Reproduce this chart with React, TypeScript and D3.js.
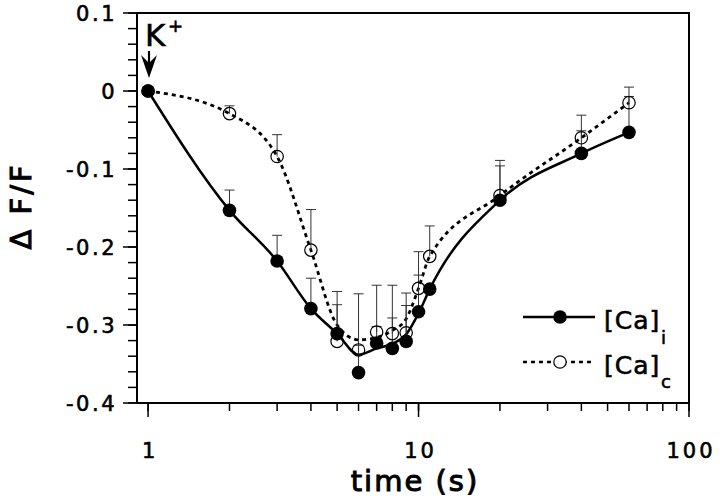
import React from 'react';
import * as d3 from 'd3';

// sample times (s) and mean values
const times = [1, 2, 3, 4, 5, 6, 7, 8, 9, 10, 11, 20, 40, 60];
const caI = [0, -0.153, -0.218, -0.279, -0.311, -0.361, -0.323, -0.33, -0.321, -0.283, -0.254, -0.14, -0.08, -0.053];
const errI = [0, 0.026, 0.033, 0.039, 0.037, 0.101, 0.074, 0.081, 0.062, 0.047, 0, 0.044, 0.029, 0.058];
const caC = [0, -0.029, -0.084, -0.204, -0.321, -0.332, -0.309, -0.311, -0.31, -0.253, -0.212, -0.134, -0.06, -0.015];
const errC = [0, 0.01, 0.028, 0.052, 0.064, 0.006, 0.007, 0.02, 0.035, 0.047, 0.039, 0.045, 0.029, 0.008];

// fitted curves (read at the same times)
const fitI = [0, -0.153, -0.218, -0.279, -0.311, -0.338, -0.33, -0.324, -0.312, -0.285, -0.254, -0.14, -0.08, -0.053];
const fitC = [0, -0.029, -0.084, -0.204, -0.3, -0.319, -0.316, -0.307, -0.292, -0.253, -0.212, -0.134, -0.06, -0.015];

const yTicks = [-0.4, -0.3, -0.2, -0.1, 0, 0.1];
const yTickLabels = ['-0.4', '-0.3', '-0.2', '-0.1', '0', '0.1'];
const xTicks = [1, 10, 100];
const xTickLabels = ['1', '10', '100'];

const W = 720;
const H = 500;
const FONT = '"DejaVu Sans", sans-serif';

export default function App() {
  const x = d3.scaleLog().domain([0.91, 100]).range([137, 689]);
  const y = d3.scaleLinear().domain([-0.4, 0.1]).range([403, 13]);

  const line = d3
    .line<number>()
    .x((_, i) => x(times[i]))
    .y((d) => y(d))
    .curve(d3.curveMonotoneX);

  const yMinor = y.ticks(25);
  const xMinor = x.ticks();

  const errBar = (v: number, e: number, t: number, key: string) => {
    if (!e) return null;
    const cx = x(t);
    return (
      <g key={key} stroke="#333" strokeWidth={1}>
        <line x1={cx} x2={cx} y1={y(v)} y2={y(v + e)} />
        <line x1={cx - 5} x2={cx + 5} y1={y(v + e)} y2={y(v + e)} />
      </g>
    );
  };

  // slight outline thickens the regular face to look like the demi weight
  const heavy = { stroke: '#000', strokeWidth: 0.6 };

  return (
    <svg
      width={W}
      height={H}
      style={{ position: 'absolute', left: 0, top: 0, background: '#fff' }}
      fontFamily={FONT}
    >
      {/* frame */}
      <rect x={137} y={13} width={552} height={390} fill="none" stroke="#000" strokeWidth={2} />

      {/* y ticks */}
      {yMinor.map((v) => (
        <line key={'ym' + v} x1={128} x2={137} y1={y(v)} y2={y(v)} stroke="#000" strokeWidth={1.5} />
      ))}
      {yTicks.map((v, i) => (
        <g key={'y' + v}>
          <line x1={123} x2={137} y1={y(v)} y2={y(v)} stroke="#000" strokeWidth={1.5} />
          <text x={117} y={y(v)} dy="0.38em" textAnchor="end" fontSize={21} letterSpacing={2.5} {...heavy}>
            {yTickLabels[i]}
          </text>
        </g>
      ))}

      {/* x ticks */}
      {xMinor.map((t) => (
        <line key={'xm' + t} x1={x(t)} x2={x(t)} y1={403} y2={411} stroke="#000" strokeWidth={1.5} />
      ))}
      {xTicks.map((t, i) => (
        <g key={'x' + t}>
          <line x1={x(t)} x2={x(t)} y1={403} y2={417} stroke="#000" strokeWidth={1.5} />
          <text x={x(t) + 2} y={458} textAnchor="middle" fontSize={21} letterSpacing={3} {...heavy}>
            {xTickLabels[i]}
          </text>
        </g>
      ))}

      {/* axis titles */}
      <text x={415} y={491} textAnchor="middle" fontSize={29} letterSpacing={2} {...heavy} strokeWidth={1}>
        time (s)
      </text>
      <text
        transform="translate(31,206) rotate(-90)"
        textAnchor="middle"
        fontSize={29}
        letterSpacing={3}
        {...heavy}
        strokeWidth={1}
      >
        Δ F/F
      </text>

      {/* curves */}
      <path d={line(fitI) || ''} fill="none" stroke="#000" strokeWidth={2.5} />
      <path d={line(fitC) || ''} fill="none" stroke="#000" strokeWidth={2.8} strokeDasharray="4,4" />

      {/* error bars */}
      {times.map((t, i) => errBar(caI[i], errI[i], t, 'ei' + i))}
      {times.map((t, i) => errBar(caC[i], errC[i], t, 'ec' + i))}

      {/* markers */}
      {times.map((t, i) => (
        <circle key={'c' + i} cx={x(t)} cy={y(caC[i])} r={6.2} fill="none" stroke="#000" strokeWidth={1.2} />
      ))}
      {times.map((t, i) => (
        <circle key={'i' + i} cx={x(t)} cy={y(caI[i])} r={6.8} fill="#000" />
      ))}

      {/* K+ annotation */}
      <text x={145} y={46} fontSize={31} {...heavy}>K</text>
      <text x={168} y={32} fontSize={18} {...heavy}>+</text>
      <line x1={149} x2={149} y1={51} y2={66} stroke="#000" strokeWidth={2.2} />
      <path d="M141,55 L149,78 L157,55 L149,63 Z" fill="#000" />

      {/* legend */}
      <line x1={523} x2={595} y1={317} y2={317} stroke="#000" strokeWidth={2.5} />
      <circle cx={560} cy={317} r={6.8} fill="#000" />
      <text x={604} y={329} fontSize={25} letterSpacing={1} {...heavy}>[Ca]</text>
      <text x={661} y={344} fontSize={18} {...heavy}>i</text>
      <line x1={523} x2={595} y1={362} y2={362} stroke="#000" strokeWidth={2.5} strokeDasharray="4,4" />
      <circle cx={560} cy={362} r={6.2} fill="#fff" stroke="#000" strokeWidth={1.2} />
      <text x={604} y={374} fontSize={25} letterSpacing={1} {...heavy}>[Ca]</text>
      <text x={661} y={388} fontSize={18} {...heavy}>c</text>
    </svg>
  );
}
